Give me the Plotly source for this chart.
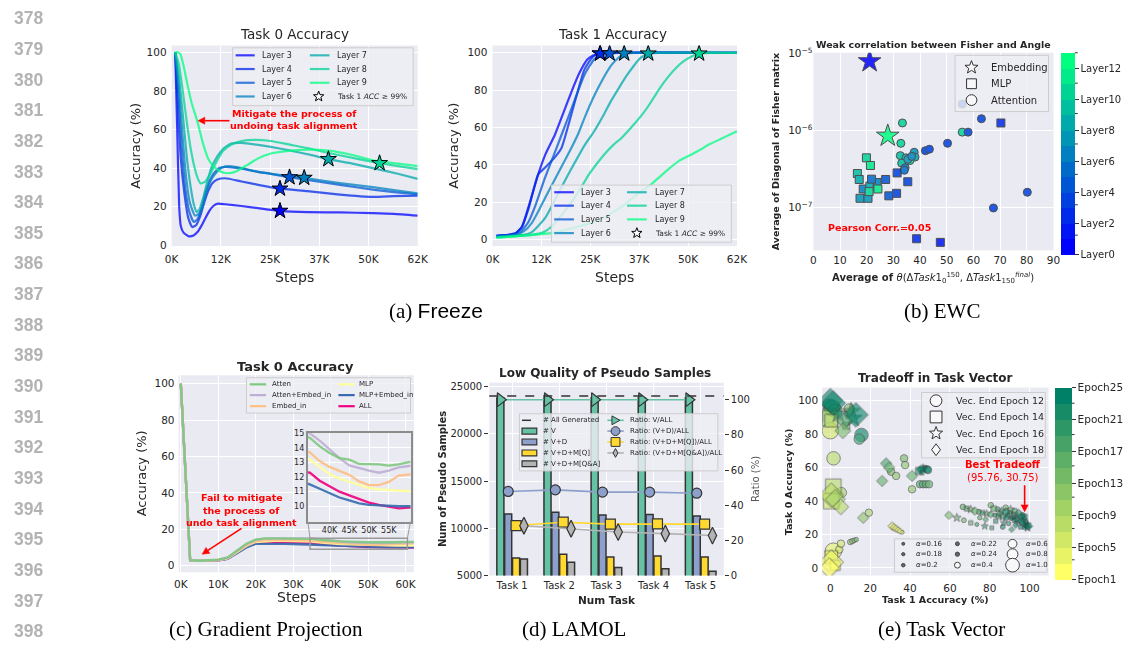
import math
import plotly.graph_objects as go

W, H = 1137, 653
FONT = "DejaVu Sans"
TXT = "#262626"
BG = "#EAEAF2"
RED = "#FF0000"

# ======================= DATA =======================
# ---- (a) Freeze : Task 0 accuracy (steps in thousands) ----
freeze_layers = [3, 4, 5, 6, 7, 8, 9]
t0_steps_l3 = [0.9, 1.4, 1.9, 2.3, 3.0, 4.3, 5.5, 6.5, 7.5, 8.5, 9.5, 10.5, 11.5, 13.5, 17.6, 21.8, 27.3, 34.2, 42.4, 50.7, 56.0, 62.0]
t0_acc_l3 = [100, 60, 20, 10, 6.5, 4.6, 5.0, 6.8, 10, 14, 17.8, 20.3, 21.5, 21.2, 20.3, 19.2, 17.8, 17.1, 17.0, 16.6, 16.2, 15.3]
t0_steps_l4 = [0.9, 1.6, 2.3, 3.2, 4.2, 5.2, 6.2, 7.2, 8.2, 9.2, 10.2, 11.5, 13.5, 17.6, 21.8, 27.3, 34.2, 42.4, 50.7, 56.0, 62.0]
t0_acc_l4 = [100, 70, 45, 27, 14, 9.4, 10.5, 15, 22, 28, 32, 34, 34.7, 33.0, 31.3, 29.3, 28.0, 26.2, 25.0, 25.4, 25.7]
t0_steps_l5 = [0.9, 1.7, 2.5, 3.4, 4.5, 5.6, 6.5, 7.5, 8.5, 9.5, 10.5, 12.0, 13.5, 17.6, 21.8, 25.0, 29.7, 34.2, 42.4, 50.7, 56.0, 62.0]
t0_acc_l5 = [100, 78, 52, 30, 17, 12.0, 13.5, 19, 27, 33, 37, 40, 40.6, 39.7, 38.0, 37.0, 35.2, 33.8, 31.3, 28.8, 27.5, 26.4]
t0_steps_l6 = [0.9, 1.8, 2.7, 3.6, 4.6, 5.9, 7.0, 8.0, 9.0, 10.0, 11.0, 12.5, 14.5, 17.6, 21.8, 27.0, 33.4, 42.4, 50.7, 56.0, 62.0]
t0_acc_l6 = [100, 82, 58, 36, 22, 15.3, 16.5, 22, 29, 34, 37, 40, 41, 40, 38, 36.5, 34.9, 32.2, 30.1, 28.5, 26.9]
t0_steps_l7 = [0.9, 1.8, 2.8, 3.8, 4.8, 5.6, 6.3, 7.0, 8.0, 9.0, 10.0, 11.5, 13.0, 15.0, 17.6, 21.8, 25.0, 30.0, 35.0, 39.5, 45.0, 52.4, 57.0, 62.0]
t0_acc_l7 = [100, 88, 68, 46, 30, 21, 17.2, 18.5, 25, 33, 40, 46, 50, 52.7, 53.0, 52.0, 51.0, 49.0, 46.8, 44.6, 42.5, 39.2, 37.0, 34.4]
t0_steps_l8 = [0.9, 1.8, 2.8, 3.8, 4.8, 5.8, 6.6, 7.3, 8.5, 10.0, 11.5, 13.0, 15.0, 17.6, 21.0, 25.0, 30.0, 35.0, 39.5, 45.0, 52.4, 57.0, 62.0]
t0_acc_l8 = [100, 94, 80, 64, 50, 40, 34.5, 32, 33, 38, 44, 49, 52, 54, 54.6, 54.0, 52.0, 50.0, 47.8, 45.5, 42.5, 41.0, 39.4]
t0_steps_l9 = [0.9, 1.5, 2.2, 3.0, 4.0, 5.0, 6.5, 8.0, 9.4, 11.0, 12.5, 14.0, 16.0, 19.0, 21.8, 25.0, 30.0, 35.0, 39.5, 45.0, 50.7, 56.0, 62.0]
t0_acc_l9 = [100, 100, 99, 93, 83, 74, 64, 52, 44, 40, 38, 37.3, 38, 41.5, 45, 47.5, 49, 49.5, 49, 47, 44, 42.5, 41]

# ---- (a) Freeze : Task 1 accuracy ----
t1_steps_l3 = [1, 4, 6, 7.5, 9.2, 11.6, 13.5, 15.8, 18, 20, 22, 24.1, 25.5, 27.3, 30, 62]
t1_acc_l3 = [2.0, 2.5, 3.5, 7, 18, 35, 46, 56, 68, 79, 89, 96.5, 98.5, 99.6, 100, 100]
t1_steps_l4 = [1, 4, 6, 7.5, 9.2, 11.6, 13.3, 15.8, 17.5, 20, 23.3, 25.5, 27.3, 30, 62]
t1_acc_l4 = [2.0, 2.5, 3.5, 7, 17, 35, 38.5, 44, 49, 67, 91, 98, 99.6, 100, 100]
t1_steps_l5 = [1, 5, 7, 9, 10.8, 13.3, 15.5, 17.5, 19.5, 21.6, 23.5, 25.8, 27.5, 29.7, 32, 62]
t1_acc_l5 = [2.0, 2.5, 4, 9, 17.8, 33, 45, 56, 67, 79, 89, 96.5, 98.5, 99.6, 100, 100]
t1_steps_l6 = [1, 6, 8, 10, 11.6, 13.5, 15.5, 17.5, 19.5, 21.6, 23.5, 25.8, 28, 30, 32, 33.4, 36, 62]
t1_acc_l6 = [1.5, 2.5, 4.5, 9, 15, 23, 31, 39, 47, 56, 66, 77, 86, 93, 97.5, 99.6, 100, 100]
t1_steps_l7 = [1, 8, 10, 11.6, 13.5, 15.8, 17.5, 19.5, 21.6, 23.5, 25.8, 28, 30, 32, 34.1, 36, 37.4, 39.5, 42, 62]
t1_acc_l7 = [1.5, 2.5, 4, 7.3, 12, 21, 28, 36, 44, 51, 58, 66, 74, 81, 88, 93.5, 97, 99.6, 100, 100]
t1_steps_l8 = [1, 10, 13, 15, 17.5, 20, 22.5, 24.5, 26.6, 28.5, 30.8, 32.5, 34.1, 36, 38, 40, 42.4, 44.5, 46.6, 48.5, 50.5, 52.4, 55, 62]
t1_acc_l8 = [1.2, 2.5, 4, 7, 13, 20, 28, 35, 41, 46, 51, 54, 57.5, 62, 67, 73, 81, 87, 92, 95.5, 98, 99.6, 100, 100]
t1_steps_l9 = [1, 10, 15, 17.5, 20, 22.5, 25.8, 28, 30, 32, 34, 36, 38.3, 40.5, 42.4, 44.5, 47.4, 50.7, 53, 55, 58, 60, 62]
t1_acc_l9 = [1.0, 2.5, 3.5, 4.7, 6, 7.5, 9.5, 11.5, 14, 16.5, 19.6, 23, 26.6, 30, 33.6, 37.5, 42.3, 45.8, 48.5, 51, 54, 56, 58]

star_layers = [3, 4, 5, 6, 7, 8]
star_steps = [27.3, 27.3, 29.7, 33.4, 39.5, 52.4]
star_task0_acc = [17.8, 29.3, 35.2, 34.9, 44.6, 42.5]
star_task1_acc = [99.6, 99.6, 99.6, 99.6, 99.6, 99.6]
freeze_xticks = [0, 12.4, 24.8, 37.2, 49.6, 62]
freeze_xticklabels = ["0K", "12K", "25K", "37K", "50K", "62K"]
acc_ticks = [0, 20, 40, 60, 80, 100]

# ---- (b) EWC ----
ewc_emb_angle = [21.1, 27.9]
ewc_emb_fisher = [7.9e-6, 8.5e-7]
ewc_emb_layer = [0, 12]
ewc_mlp_angle = [70.3, 19.9, 21.4, 16.5, 17.2, 18.7, 17.5, 20.5, 21.2, 20.9, 23.9, 24.2, 21.8, 27.1, 31.4, 28.3, 31.2, 35.4, 38.7, 47.6]
ewc_mlp_fisher = [1.25e-6, 4.4e-7, 3.5e-7, 2.75e-7, 2.3e-7, 1.73e-7, 1.31e-7, 1.31e-7, 1.89e-7, 1.6e-7, 2.1e-7, 1.73e-7, 2.32e-7, 2.3e-7, 2.8e-7, 1.41e-7, 1.52e-7, 2.15e-7, 3.9e-8, 3.5e-8]
ewc_mlp_layer = [2, 10, 11, 9, 8, 6, 7, 7, 8, 10, 6, 11, 5, 4, 3, 4, 3, 3, 2, 1]
ewc_att_angle = [33.4, 32.8, 55.8, 63.0, 55.8, 58.0, 50.3, 42.0, 43.5, 32.6, 37.8, 38.1, 34.7, 36.2, 33.1, 34.4, 34.1, 35.4, 36.9, 67.5, 80.2]
ewc_att_fisher = [1.25e-6, 6.8e-7, 2.2e-6, 1.42e-6, 9.5e-7, 9.5e-7, 6.8e-7, 5.45e-7, 5.7e-7, 4.7e-7, 5.2e-7, 4.5e-7, 4.4e-7, 4.05e-7, 3.75e-7, 3.27e-7, 3.03e-7, 4.2e-7, 4.6e-7, 9.8e-8, 1.57e-7]
ewc_att_layer = [10, 10, 4, 3, 10, 3, 3, 3, 3, 9, 7, 8, 8, 10, 9, 5, 5, 7, 6, 3, 3]
ewc_pearson = "Pearson Corr.=0.05"
layer_tickvals = [0, 2, 4, 6, 8, 10, 12]
layer_ticktext = ["Layer0", "Layer2", "Layer4", "Layer6", "Layer8", "Layer10", "Layer12"]
layer_minor_ticks = [1, 3, 5, 7, 9, 11, 13]

# ---- (c) Gradient Projection ----
gp_steps = [0, 2.5, 5, 7.5, 10, 12.5, 15, 17.5, 20, 22.5, 25, 27.5, 30, 32.5, 35, 37.5, 40, 42.5, 45, 47.5, 50, 52.5, 55, 57.5, 60, 62.5]
gp_atten = [100, 3.0, 2.7, 2.8, 3.3, 4.5, 8.5, 12.0, 14.3, 15.0, 15.0, 15.0, 15.0, 14.9, 14.7, 14.1, 13.65, 13.3, 13.2, 12.9, 12.87, 12.87, 12.78, 12.87, 13.03, 13.1]
gp_atten_emb = [100, 3.0, 2.7, 2.8, 3.2, 4.3, 8.2, 11.8, 14.2, 14.9, 15.0, 15.1, 15.1, 15.1, 15.0, 14.5, 13.9, 13.3, 12.8, 12.6, 12.44, 12.3, 12.44, 12.66, 12.78, 12.85]
gp_emb = [100, 3.0, 2.7, 2.8, 3.1, 4.1, 7.8, 11.2, 13.4, 14.0, 14.1, 14.1, 14.0, 13.9, 13.7, 13.1, 12.7, 12.4, 12.15, 11.7, 11.45, 11.45, 11.67, 12.1, 12.2, 12.25]
gp_mlp = [100, 3.0, 2.7, 2.8, 3.0, 4.0, 7.5, 10.8, 13.0, 13.5, 13.6, 13.6, 13.5, 13.4, 13.2, 12.7, 12.2, 11.9, 11.7, 11.45, 11.25, 11.15, 11.1, 11.05, 11.0, 11.0]
gp_mlp_emb = [100, 3.0, 2.6, 2.7, 2.9, 3.7, 6.8, 10.0, 12.0, 12.1, 12.1, 12.0, 11.9, 11.7, 11.5, 11.2, 10.9, 10.6, 10.4, 10.2, 10.1, 10.05, 10.0, 10.0, 10.0, 10.0]
gp_all = [100, 3.0, 2.6, 2.7, 2.9, 3.8, 7.0, 10.3, 12.5, 12.7, 12.7, 12.6, 12.5, 12.4, 12.3, 11.75, 11.35, 11.0, 10.75, 10.5, 10.25, 10.1, 9.98, 9.86, 9.9, 9.9]
gp_names = ["Atten", "Atten+Embed_in", "Embed_in", "MLP", "MLP+Embed_in", "ALL"]
gp_xticks = [0, 10, 20, 30, 40, 50, 60]
gp_xticklabels = ["0K", "10K", "20K", "30K", "40K", "50K", "60K"]
gp_inset_xticks = [40, 45, 50, 55]
gp_inset_xticklabels = ["40K", "45K", "50K", "55K"]
gp_inset_yticks = [10, 11, 12, 13, 14, 15]

# ---- (d) LAMOL ----
lamol_tasks = ["Task 1", "Task 2", "Task 3", "Task 4", "Task 5"]
num_v = [23800, 23800, 23800, 23800, 23800]
num_vd = [11500, 11700, 11400, 11450, 11300]
num_vdq = [6850, 7250, 6950, 7050, 6950]
num_vdqa = [6750, 6400, 5850, 5700, 5450]
all_generated = 24000
ratio_v = [100, 100, 100, 100, 100]
ratio_vd = [47.8, 48.7, 47.4, 47.4, 46.8]
ratio_vdq = [28.4, 30.3, 29.2, 29.4, 29.2]
ratio_vdqa = [28.3, 26.6, 24.7, 23.8, 22.7]
lamol_left_ticks = [5000, 10000, 15000, 20000, 25000]
lamol_right_ticks = [0, 20, 40, 60, 80, 100]

# ---- (e) Task Vector ----
tv_task1 = [0.0, 1.5, -0.5, 1.0, 2.5, -0.5, 0.0, 0.5, 0.0, 9.5, 10.5, 12.8, 11.5, 7.0, 8.0, 6.3, 15.6, 14.5, 4.0,
            1.6, 1.5, 0.5, 0.5, 2.5, 5.3, 5.5,
            1.5, 0.5, -0.5, 0.5, 4.5, 5.3, 2.5,
            16.5, 19.3, 10.0, 11.0, 12.0, 13.0, 31.0, 32.0, 33.0, 34.0, 35.0, 36.0,
            26.0, 28.0, 29.5, 30.5, 33.0, 37.0, 37.5, 41.0, 41.0, 44.5, 45.5, 46.5, 47.5, 48.5, 46.0, 49.0, 45.0, 46.5, 48.0, 49.5,
            59.5, 63.5, 67.0, 70.5, 73.5, 77.5, 81.0, 86.5, 91.0, 66.5, 68.5, 70.5, 72.5, 74.5, 76.5, 78.5, 80.5, 80.5, 82.5, 84.5,
            86.5, 88.5, 90.5, 92.5, 94.5, 96.5, 98.5, 82.0, 84.0, 86.0, 88.0, 90.0, 92.0, 94.0, 95.8, 97.0, 98.0, 99.0, 75.0, 78.0,
            83.0, 87.0, 89.5, 93.0, 95.5, 97.5, 99.0, 85.0, 89.0, 91.5, 93.5, 96.0, 98.0, 99.5, 88.0, 90.5, 92.5, 94.5, 96.5, 97.5]
tv_task0 = [100.0, 98.5, 97.0, 95.5, 94.0, 91.5, 89.5, 88.0, 82.0, 95.0, 93.5, 91.5, 89.5, 88.0, 85.0, 82.0, 79.5, 77.0, 92.0,
            65.5, 48.5, 43.5, 40.0, 41.0, 36.5, 45.0,
            10.0, 3.5, 0.0, 6.5, 11.0, 14.5, 1.5,
            30.0, 33.0, 15.5, 16.0, 16.5, 17.0, 25.0, 24.2, 23.5, 22.8, 22.0, 21.3,
            52.0, 62.5, 60.0, 57.5, 55.0, 65.5, 61.5, 55.0, 47.0, 58.0, 59.0, 59.5, 60.0, 59.0, 57.0, 58.5, 50.0, 50.0, 50.0, 50.0,
            31.5, 30.0, 28.5, 27.0, 26.0, 25.0, 24.0, 24.5, 23.0, 36.5, 35.5, 35.0, 34.0, 33.5, 33.0, 32.5, 37.5, 32.0, 31.5, 31.0,
            30.5, 30.0, 29.5, 28.5, 27.5, 26.5, 25.0, 35.5, 35.0, 34.0, 33.5, 33.0, 32.0, 31.0, 30.8, 29.0, 27.5, 26.0, 30.0, 29.0,
            28.0, 27.0, 26.5, 25.5, 24.5, 24.0, 24.0, 32.5, 31.5, 30.0, 29.0, 28.0, 26.0, 25.0, 36.0, 35.0, 34.0, 33.0, 31.5, 30.5]
tv_alpha = [1.0, 1.0, 0.8, 1.0, 0.8, 0.8, 1.0, 0.8, 1.0, 0.6, 0.6, 1.0, 0.6, 0.6, 0.4, 0.6, 0.8, 0.6, 0.6,
            0.8, 1.0, 1.0, 1.0, 0.8, 0.6, 0.6,
            1.0, 1.0, 0.8, 0.8, 0.4, 0.4, 0.6,
            0.4, 0.4, 0.24, 0.22, 0.2, 0.18, 0.24, 0.22, 0.2, 0.18, 0.16, 0.16,
            0.4, 0.4, 0.4, 0.4, 0.4, 0.4, 0.4, 0.4, 0.4, 0.4, 0.24, 0.22, 0.2, 0.4, 0.18, 0.4, 0.4, 0.4, 0.4, 0.4,
            0.24, 0.22, 0.2, 0.18, 0.16, 0.18, 0.16, 0.2, 0.16, 0.24, 0.22, 0.2, 0.24, 0.22, 0.2, 0.18, 0.24, 0.2, 0.18, 0.22,
            0.2, 0.18, 0.16, 0.2, 0.18, 0.16, 0.2, 0.24, 0.22, 0.2, 0.24, 0.22, 0.2, 0.18, 0.24, 0.22, 0.2, 0.18, 0.18, 0.16,
            0.18, 0.16, 0.18, 0.16, 0.18, 0.16, 0.2, 0.16, 0.18, 0.2, 0.22, 0.2, 0.22, 0.24, 0.24, 0.2, 0.22, 0.2, 0.22, 0.24]
tv_epoch = [25, 23, 21, 19, 17, 11, 9, 7, 5, 13, 15, 25, 21, 17, 15, 13, 25, 19, 21,
            7, 7, 7, 5, 9, 7, 9,
            3, 3, 1, 3, 5, 5, 1,
            11, 9, 11, 11, 13, 13, 3, 3, 3, 3, 3, 3,
            15, 17, 15, 13, 11, 13, 11, 15, 11, 21, 23, 25, 25, 25, 21, 23, 17, 17, 17, 15,
            13, 15, 13, 15, 17, 19, 17, 21, 19, 15, 17, 13, 15, 17, 19, 15, 13, 17, 19, 21,
            17, 23, 21, 25, 23, 25, 25, 15, 17, 19, 21, 19, 23, 21, 25, 23, 25, 25, 15, 17,
            19, 21, 19, 23, 25, 25, 23, 17, 21, 23, 25, 23, 25, 25, 13, 15, 17, 19, 21, 23]
tv_vec_end = [18, 18, 12, 12, 12, 14, 14, 14, 12, 12, 16, 18, 16, 18, 14, 18, 12, 12, 16,
              12, 14, 18, 14, 18, 18, 12,
              12, 18, 18, 14, 12, 12, 14,
              18, 12, 12, 12, 12, 12, 18, 18, 18, 18, 18, 12,
              18, 18, 18, 12, 12, 12, 12, 18, 12, 14, 18, 16, 12, 12, 14, 12, 12, 12, 12, 12,
              18, 16, 12, 14, 12, 16, 14, 12, 18, 12, 14, 16, 18, 12, 14, 16, 12, 18, 12, 14,
              16, 18, 12, 14, 16, 18, 12, 14, 12, 16, 18, 12, 14, 16, 18, 12, 14, 16, 12, 18,
              14, 16, 12, 18, 14, 12, 16, 18, 14, 12, 16, 18, 12, 18, 12, 16, 14, 18, 12, 14]
tv_best = (95.76, 30.75)
vec_end_epochs = [12, 14, 16, 18]
alpha_levels = [0.16, 0.18, 0.2, 0.22, 0.24, 0.4, 0.6, 0.8, 1.0]
epoch_tickvals = [1, 5, 9, 13, 17, 21, 25]
epoch_ticktext = ["Epoch1", "Epoch5", "Epoch9", "Epoch13", "Epoch17", "Epoch21", "Epoch25"]
epoch_minor_ticks = [3, 7, 11, 15, 19, 23]
tv_ticks = [0, 20, 40, 60, 80, 100]

# ======================= HELPERS =======================
def fx(p):
    return p / W


def fy(p):
    return 1 - p / H


def winter(t):
    return (0, int(round(255 * t)), int(round(255 * (1 - 0.5 * t))))


def summer_r(t):
    s = 1 - t
    return (int(round(255 * s)), int(round(255 * (0.5 + 0.5 * s))), 102)


def rgba(c, a=1.0):
    return "rgba(%d,%d,%d,%.3f)" % (c[0], c[1], c[2], a)


def discrete_scale(colors):
    n = len(colors)
    cs = []
    for i, c in enumerate(colors):
        cs.append([i / n, rgba(c)])
        cs.append([(i + 1) / n, rgba(c)])
    return cs


shapes = []
annos = []


def rect_px(x0, y0, x1, y1, fill, line, lw=1.0):
    shapes.append(dict(type="rect", xref="paper", yref="paper", x0=fx(x0), x1=fx(x1), y0=fy(y1), y1=fy(y0),
                       fillcolor=fill, line=dict(color=line, width=lw), layer="above"))


def line_px(x0, y0, x1, y1, color, width, dash="solid"):
    shapes.append(dict(type="line", xref="paper", yref="paper", x0=fx(x0), y0=fy(y0), x1=fx(x1), y1=fy(y1),
                       line=dict(color=color, width=width, dash=dash), layer="above"))


def path_px(pts, fill, line, lw):
    d = "M" + "L".join("%.5f,%.5f" % (fx(x), fy(y)) for x, y in pts) + "Z"
    shapes.append(dict(type="path", xref="paper", yref="paper", path=d, fillcolor=fill,
                       line=dict(color=line, width=lw), layer="above"))


def symbol_px(sym, cx, cy, size, fill, line, lw=1.0):
    r = size / 2.0
    if sym == "circle":
        shapes.append(dict(type="circle", xref="paper", yref="paper", x0=fx(cx - r), x1=fx(cx + r),
                           y0=fy(cy + r), y1=fy(cy - r), fillcolor=fill, line=dict(color=line, width=lw), layer="above"))
    elif sym == "square":
        rect_px(cx - r, cy - r, cx + r, cy + r, fill, line, lw)
    elif sym == "diamond":
        path_px([(cx, cy - r), (cx + r * 0.75, cy), (cx, cy + r), (cx - r * 0.75, cy)], fill, line, lw)
    elif sym == "diamond-tall":
        path_px([(cx, cy - r), (cx + r * 0.55, cy), (cx, cy + r), (cx - r * 0.55, cy)], fill, line, lw)
    elif sym == "triangle-right":
        path_px([(cx - r * 0.8, cy - r), (cx + r, cy), (cx - r * 0.8, cy + r)], fill, line, lw)
    elif sym == "star":
        pts = []
        for k in range(10):
            ang = -math.pi / 2 + k * math.pi / 5
            rr = r if k % 2 == 0 else r * 0.42
            pts.append((cx + rr * math.cos(ang), cy + rr * math.sin(ang)))
        path_px(pts, fill, line, lw)


def text_px(x, y, text, size, color=TXT, xanchor="left", angle=0, family=FONT, yanchor="middle"):
    annos.append(dict(xref="paper", yref="paper", x=fx(x), y=fy(y), text=text, showarrow=False,
                      xanchor=xanchor, yanchor=yanchor, textangle=angle,
                      font=dict(size=size, color=color, family=family)))


def arrow_px(tipx, tipy, tailx, taily, color=RED, width=1.6, head=7.0, half=3.6):
    dx, dy = tipx - tailx, tipy - taily
    n = math.hypot(dx, dy)
    ux, uy = dx / n, dy / n
    bx, by = tipx - ux * head, tipy - uy * head
    line_px(tailx, taily, bx, by, color, width)
    path_px([(tipx, tipy), (bx - uy * half, by + ux * half), (bx + uy * half, by - ux * half)], color, color, 0.5)


LEG_FILL = "rgba(238,238,244,0.82)"
LEG_LINE = "#cccccc"


def dom(a, b, total):
    return [a / total, b / total]


def ydom(top, bottom):
    return [fy(bottom), fy(top)]


def axis(**kw):
    d = dict(showgrid=True, gridcolor="white", gridwidth=1, zeroline=False, showline=False, ticks="",
             tickfont=dict(family=FONT, size=10.5, color=TXT), layer="below traces")
    d.update(kw)
    return d


fig = go.Figure()

# ======================= (a) Freeze =======================
freeze_colors = [winter((L - 3) / 6.0) for L in freeze_layers]
t0_series = [(t0_steps_l3, t0_acc_l3), (t0_steps_l4, t0_acc_l4), (t0_steps_l5, t0_acc_l5), (t0_steps_l6, t0_acc_l6),
             (t0_steps_l7, t0_acc_l7), (t0_steps_l8, t0_acc_l8), (t0_steps_l9, t0_acc_l9)]
t1_series = [(t1_steps_l3, t1_acc_l3), (t1_steps_l4, t1_acc_l4), (t1_steps_l5, t1_acc_l5), (t1_steps_l6, t1_acc_l6),
             (t1_steps_l7, t1_acc_l7), (t1_steps_l8, t1_acc_l8), (t1_steps_l9, t1_acc_l9)]
for (sx, sy), col, L in zip(t0_series, freeze_colors, freeze_layers):
    fig.add_trace(go.Scatter(x=sx, y=sy, mode="lines", name="Layer %d" % L, xaxis="x", yaxis="y",
                             line=dict(color=rgba(col, 0.75), width=2.2, shape="spline", smoothing=0.5)))
for (sx, sy), col, L in zip(t1_series, freeze_colors, freeze_layers):
    fig.add_trace(go.Scatter(x=sx, y=sy, mode="lines", name="Layer %d" % L, xaxis="x2", yaxis="y2",
                             line=dict(color=rgba(col, 0.75), width=2.2, shape="spline", smoothing=0.5)))
star_cols = [rgba(winter((L - 3) / 6.0)) for L in star_layers]
fig.add_trace(go.Scatter(x=star_steps, y=star_task0_acc, mode="markers", xaxis="x", yaxis="y",
                         marker=dict(symbol="star", size=12, color=star_cols, line=dict(color="black", width=1))))
fig.add_trace(go.Scatter(x=star_steps, y=star_task1_acc, mode="markers", xaxis="x2", yaxis="y2",
                         marker=dict(symbol="star", size=12, color=star_cols, line=dict(color="black", width=1))))

# ======================= (b) EWC =======================
winter_bands = [winter(i / 12.0) for i in range(13)]
ewc_scale = discrete_scale(winter_bands)
ewc_common = dict(colorscale=ewc_scale, cmin=-0.001, cmax=12.999, line=dict(color="#333333", width=1))
CB_B = dict(x=1070.7, top=46.7, len=201.6, th=14.3)
fig.add_trace(go.Scatter(x=ewc_mlp_angle, y=ewc_mlp_fisher, mode="markers", xaxis="x3", yaxis="y3", opacity=0.85,
                         marker=dict(symbol="square", size=8, color=ewc_mlp_layer, **ewc_common)))
fig.add_trace(go.Scatter(x=ewc_att_angle, y=ewc_att_fisher, mode="markers", xaxis="x3", yaxis="y3", opacity=0.85,
                         marker=dict(symbol="circle", size=8, color=ewc_att_layer, **ewc_common)))
fig.add_trace(go.Scatter(x=ewc_emb_angle, y=ewc_emb_fisher, mode="markers", xaxis="x3", yaxis="y3", opacity=0.85,
                         marker=dict(symbol="star", size=17, color=ewc_emb_layer, showscale=True,
                                     colorbar=dict(x=fx(CB_B["x"]), xanchor="left", y=fy(CB_B["top"]), yanchor="top",
                                                   lenmode="pixels", len=CB_B["len"], thickness=CB_B["th"],
                                                   thicknessmode="pixels",
                                                   outlinewidth=0, xpad=0, ypad=0, ticks="outside", ticklen=4,
                                                   tickcolor="#333333", tickvals=layer_tickvals, ticktext=layer_ticktext,
                                                   tickfont=dict(family=FONT, size=10, color=TXT)),
                                     **ewc_common)))
for v in layer_minor_ticks:
    yy = CB_B["top"] + CB_B["len"] * (1 - v / 13.0)
    line_px(CB_B["x"] + CB_B["th"], yy, CB_B["x"] + CB_B["th"] + 3, yy, "#333333", 1)

# ======================= (c) Gradient Projection =======================
gp_series = [gp_atten, gp_atten_emb, gp_emb, gp_mlp, gp_mlp_emb, gp_all]
gp_colors = ["#7fc97f", "#beaed4", "#fdc086", "#ffff99", "#386cb0", "#f0027f"]
draw_order = [5, 4, 3, 2, 1, 0]
for k in draw_order:
    fig.add_trace(go.Scatter(x=gp_steps, y=gp_series[k], mode="lines", name=gp_names[k], xaxis="x4", yaxis="y4",
                             opacity=0.9, line=dict(color=gp_colors[k], width=2.3)))
for k in draw_order:
    fig.add_trace(go.Scatter(x=gp_steps, y=gp_series[k], mode="lines", name=gp_names[k], xaxis="x5", yaxis="y5",
                             opacity=0.9, line=dict(color=gp_colors[k], width=2.3)))

# ======================= (d) LAMOL =======================
BAR_GAP = 1 / 3.0
task_idx = list(range(len(lamol_tasks)))
bar_series = [num_v, num_vd, num_vdq, num_vdqa]
bar_colors = ["#66c2a5", "#8da0cb", "#ffd92f", "#b3b3b3"]
bar_names = ["# V", "# V+D", "# V+D+M[Q]", "# V+D+M[Q&A]"]
for ser, col, nm in zip(bar_series, bar_colors, bar_names):
    fig.add_trace(go.Bar(x=task_idx, y=ser, name=nm, xaxis="x6", yaxis="y6", marker=dict(color=col,
                         line=dict(color="#333333", width=1.5))))
slot = (1 - BAR_GAP) / 4.0
offsets = [-(1 - BAR_GAP) / 2.0 + slot * (k + 0.5) for k in range(4)]
ratio_series = [ratio_v, ratio_vd, ratio_vdq, ratio_vdqa]
ratio_colors = ["#66c2a5", "#8da0cb", "#ffd92f", "#b3b3b3"]
ratio_symbols = ["triangle-right", "circle", "square", "diamond-tall"]
ratio_sizes = [12, 10, 10, 12]
for ser, col, sym, off, sz in zip(ratio_series, ratio_colors, ratio_symbols, offsets, ratio_sizes):
    fig.add_trace(go.Scatter(x=[i + off for i in task_idx], y=ser, mode="lines+markers", xaxis="x6", yaxis="y7",
                             line=dict(color=col, width=1.6),
                             marker=dict(symbol=sym, size=sz, color=col, line=dict(color="#333333", width=1.2))))
shapes.append(dict(type="line", xref="x6 domain", yref="y6", x0=0, x1=1, y0=all_generated, y1=all_generated,
                   line=dict(color="#333333", width=1.5, dash="dash"), layer="above"))

# ======================= (e) Task Vector =======================
summer_bands = [summer_r(i / 11.0) for i in range(12)]
tv_scale = discrete_scale(summer_bands)
size_for_alpha = {0.16: 4.0, 0.18: 4.4, 0.2: 4.8, 0.22: 5.2, 0.24: 5.6, 0.4: 7.5, 0.6: 10.5, 0.8: 13.5, 1.0: 16.5}
vec_symbol = {12: "circle", 14: "square", 16: "star", 18: "diamond"}
vec_scale = {12: 1.0, 14: 0.95, 16: 1.25, 18: 1.15}
CB_E = dict(x=1065.0, top=388.3, len=191.7, th=16.7)
for k, ve in enumerate(vec_end_epochs):
    idx = [i for i, v in enumerate(tv_vec_end) if v == ve]
    mk = dict(symbol=vec_symbol[ve], size=[size_for_alpha[tv_alpha[i]] * vec_scale[ve] for i in idx],
              color=[tv_epoch[i] for i in idx], colorscale=tv_scale, cmin=0.999, cmax=25.0,
              line=dict(color="#333333", width=0.9))
    if k == 0:
        mk["showscale"] = True
        mk["colorbar"] = dict(x=fx(CB_E["x"]), xanchor="left", y=fy(CB_E["top"]), yanchor="top", lenmode="pixels",
                              len=CB_E["len"], thickness=CB_E["th"], thicknessmode="pixels", outlinewidth=0, xpad=0,
                              ypad=0, ticks="outside", ticklen=4, tickcolor="#333333", tickvals=epoch_tickvals,
                              ticktext=epoch_ticktext, tickfont=dict(family=FONT, size=10.5, color=TXT))
    fig.add_trace(go.Scatter(x=[tv_task1[i] for i in idx], y=[tv_task0[i] for i in idx], mode="markers",
                             xaxis="x8", yaxis="y8", opacity=0.85, marker=mk))
for v in epoch_minor_ticks:
    yy = CB_E["top"] + CB_E["len"] * (1 - (v - 1) / 24.0)
    line_px(CB_E["x"] + CB_E["th"], yy, CB_E["x"] + CB_E["th"] + 3, yy, "#333333", 1)

# ======================= AXES =======================
A1 = dict(x0=167.3, x1=417.3, top=39.3, bottom=244.0)
A2 = dict(x0=493.3, x1=741.7, top=39.3, bottom=244.0)
B = dict(x0=819.3, x1=1063.3, top=46.7, bottom=248.3)
C = dict(x0=174.3, x1=413.3, top=375.7, bottom=576.7)
CI = dict(x0=305.7, x1=410.0, top=435.0, bottom=525.0)
D = dict(x0=490.0, x1=728.3, top=383.3, bottom=580.0)
E = dict(x0=828.3, x1=1058.3, top=388.3, bottom=580.0)
C_xr = [-0.6, 62.2]
C_yr = [-3.6, 104.6]
CI_xr = [34.5, 60.5]
CI_yr = [8.95, 15.0]

lay = dict(
    xaxis=axis(domain=dom(A1["x0"], A1["x1"], W), range=[0, 62], tickvals=freeze_xticks, ticktext=freeze_xticklabels,
               anchor="y", ticklabelstandoff=5),
    yaxis=axis(domain=ydom(A1["top"], A1["bottom"]), range=[-0.5, 103.5], tickvals=acc_ticks, anchor="x",
               ticklabelstandoff=4),
    xaxis2=axis(domain=dom(A2["x0"], A2["x1"], W), range=[0, 62], tickvals=freeze_xticks, ticktext=freeze_xticklabels,
                anchor="y2", ticklabelstandoff=5),
    yaxis2=axis(domain=ydom(A2["top"], A2["bottom"]), range=[-3.5, 103.9], tickvals=acc_ticks, anchor="x2",
                ticklabelstandoff=4),
    xaxis3=axis(domain=dom(B["x0"], B["x1"], W), range=[0, 90], dtick=10, anchor="y3", ticklabelstandoff=2),
    yaxis3=axis(domain=ydom(B["top"], B["bottom"]), type="log", range=[-7.56, -4.99], anchor="x3",
                tickvals=[1e-7, 1e-6, 1e-5], ticktext=["10<sup>−7</sup>", "10<sup>−6</sup>", "10<sup>−5</sup>"]),
    xaxis4=axis(domain=dom(C["x0"], C["x1"], W), range=C_xr, tickvals=gp_xticks, ticktext=gp_xticklabels, anchor="y4",
                ticklabelstandoff=4),
    yaxis4=axis(domain=ydom(C["top"], C["bottom"]), range=C_yr, tickvals=acc_ticks, anchor="x4", ticklabelstandoff=3),
    xaxis5=axis(domain=dom(CI["x0"], CI["x1"], W), range=CI_xr, tickvals=gp_inset_xticks, ticktext=gp_inset_xticklabels,
                anchor="y5", showline=True, mirror=True, linecolor="#8c8c8c", linewidth=2,
                tickfont=dict(family=FONT, size=8, color=TXT)),
    yaxis5=axis(domain=ydom(CI["top"], CI["bottom"]), range=CI_yr, tickvals=gp_inset_yticks, anchor="x5",
                showline=True, mirror=True, linecolor="#8c8c8c", linewidth=2,
                tickfont=dict(family=FONT, size=8, color=TXT)),
    xaxis6=axis(domain=dom(D["x0"], D["x1"], W), range=[-0.486, 4.49], tickvals=task_idx, ticktext=lamol_tasks,
                anchor="y6", ticklabelstandoff=3, tickfont=dict(family=FONT, size=10, color=TXT)),
    yaxis6=axis(domain=ydom(D["top"], D["bottom"]), range=[5000, 25415], tickvals=lamol_left_ticks, anchor="x6",
                tickformat="d", ticks="outside", ticklen=4, tickcolor="#333333",
                tickfont=dict(family=FONT, size=10, color=TXT)),
    yaxis7=axis(domain=ydom(D["top"], D["bottom"]), range=[0, 109.7], tickvals=lamol_right_ticks, anchor="x6",
                overlaying="y6", side="right", showgrid=False, ticks="outside", ticklen=4, tickcolor="#333333",
                tickfont=dict(family=FONT, size=10, color=TXT)),
    xaxis8=axis(domain=dom(E["x0"], E["x1"], W), range=[-4.1, 109.5], tickvals=tv_ticks, anchor="y8",
                ticklabelstandoff=5),
    yaxis8=axis(domain=ydom(E["top"], E["bottom"]), range=[-4.5, 107.8], tickvals=tv_ticks, anchor="x8",
                ticklabelstandoff=3),
)

# ======================= TITLES / AXIS LABELS =======================
text_px(291.7, 27.3, "Task 0 Accuracy", 13.5, xanchor="center")
text_px(615.0, 27.3, "Task 1 Accuracy", 13.5, xanchor="center")
text_px(941.7, 38.3, "<b>Weak correlation between Fisher and Angle</b>", 9.5, xanchor="center")
text_px(293.3, 366.7, "<b>Task 0 Accuracy</b>", 13, xanchor="center")
text_px(608.0, 373.3, "<b>Low Quality of Pseudo Samples</b>", 12, xanchor="center")
text_px(943.3, 379.0, "<b>Tradeoff in Task Vector</b>", 12, xanchor="center")

text_px(131.0, 141.7, "Accuracy (%)", 13, xanchor="center", angle=-90)
text_px(292.3, 275.0, "Steps", 14, xanchor="center")
text_px(454.0, 141.7, "Accuracy (%)", 13, xanchor="center", angle=-90)
text_px(617.5, 275.0, "Steps", 14, xanchor="center")
text_px(781.0, 147.5, "<b>Average of Diagonal of Fisher matrix</b>", 9.5, xanchor="center", angle=-90)
text_px(941.3, 277.0, "<b>Average of </b><i>θ</i>(Δ<i>Task</i>1<sub>0</sub><sup>150</sup>, Δ<i>Task</i>1<sub>150</sub><sup><i>final</i></sup>)",
        10, xanchor="center")
text_px(137.0, 476.0, "Accuracy (%)", 13, xanchor="center", angle=-90)
text_px(293.8, 601.7, "Steps", 14, xanchor="center")
text_px(442.0, 481.7, "<b>Num of Pseudo Samples</b>", 10, xanchor="center", angle=-90)
text_px(609.2, 605.0, "<b>Num Task</b>", 10.5, xanchor="center")
text_px(760.0, 481.7, "Ratio (%)", 10, color="#555555", xanchor="center", angle=-90)
text_px(793.5, 484.0, "<b>Task 0 Accuracy (%)</b>", 9.5, xanchor="center", angle=-90)
text_px(943.3, 604.3, "<b>Task 1 Accuracy (%)</b>", 9.5, xanchor="center")

# ======================= ANNOTATIONS =======================
text_px(291.7, 108.7, "<b>Mitigate the process of</b>", 9.5, color=RED, xanchor="center")
text_px(291.7, 121.0, "<b>undoing task alignment</b>", 9.5, color=RED, xanchor="center")
arrow_px(194.0, 116.0, 226.0, 116.0)
text_px(832.0, 225.0, "<b>" + ewc_pearson + "</b>", 9.5, color=RED)
text_px(238.3, 500.7, "<b>Fail to mitigate</b>", 9.5, color=RED, xanchor="center")
text_px(238.3, 513.3, "<b>the process of</b>", 9.5, color=RED, xanchor="center")
text_px(238.3, 526.0, "<b>undo task alignment</b>", 9.5, color=RED, xanchor="center")
arrow_px(198.3, 558.3, 238.3, 532.0)
text_px(1012.3, 466.7, "<b>Best Tradeoff</b>", 10, color=RED, xanchor="center")
text_px(1012.0, 480.0, "(%.2f, %.2f)" % tv_best, 10, color=RED, xanchor="center")
arrow_px(1034.0, 515.0, 1034.0, 488.0)


# inset marker rectangle + connectors for (c)
def c_main_px(xv, yv):
    px_ = C["x0"] + (xv - C_xr[0]) / (C_xr[1] - C_xr[0]) * (C["x1"] - C["x0"])
    py_ = C["top"] + (C_yr[1] - yv) / (C_yr[1] - C_yr[0]) * (C["bottom"] - C["top"])
    return px_, py_


shapes.append(dict(type="rect", xref="x4", yref="y4", x0=CI_xr[0], x1=CI_xr[1], y0=CI_yr[0], y1=CI_yr[1],
                   line=dict(color="#9a9a9a", width=1.5), fillcolor="rgba(0,0,0,0)", layer="above"))
tl = c_main_px(CI_xr[0], CI_yr[1])
tr = c_main_px(CI_xr[1], CI_yr[1])
line_px(tl[0], tl[1], CI["x0"], CI["bottom"], "#9a9a9a", 1)
line_px(tr[0], tr[1], CI["x1"], CI["bottom"], "#9a9a9a", 1)

# ======================= LEGENDS (drawn manually) =======================
# (a) Task 0
rect_px(229.3, 41.7, 412.7, 100.7, LEG_FILL, LEG_LINE)
rows = [49.3, 63.3, 77.3, 91.3]
for i in range(4):
    line_px(232.3, rows[i], 251.7, rows[i], rgba(freeze_colors[i], 0.75), 2.2)
    text_px(257.5, rows[i], "Layer %d" % freeze_layers[i], 8)
for i in range(3):
    line_px(307.7, rows[i], 327.7, rows[i], rgba(freeze_colors[4 + i], 0.75), 2.2)
    text_px(333.0, rows[i], "Layer %d" % freeze_layers[4 + i], 8)
symbol_px("star", 316.7, rows[3], 11, "white", "black", 1)
text_px(333.0, rows[3], "Task 1 <i>ACC</i> ≥ 99%", 7.5)
# (a) Task 1
rect_px(553.3, 181.7, 736.0, 240.0, LEG_FILL, LEG_LINE)
rows = [189.0, 202.7, 216.7, 230.7]
for i in range(4):
    line_px(556.0, rows[i], 576.0, rows[i], rgba(freeze_colors[i], 0.75), 2.2)
    text_px(581.0, rows[i], "Layer %d" % freeze_layers[i], 8)
for i in range(3):
    line_px(630.0, rows[i], 650.0, rows[i], rgba(freeze_colors[4 + i], 0.75), 2.2)
    text_px(656.0, rows[i], "Layer %d" % freeze_layers[4 + i], 8)
symbol_px("star", 640.0, rows[3], 11, "white", "black", 1)
text_px(656.0, rows[3], "Task 1 <i>ACC</i> ≥ 99%", 7.5)
# (b)
rect_px(963.3, 49.3, 1058.3, 106.7, LEG_FILL, LEG_LINE)
rows = [61.7, 78.3, 95.0]
symbol_px("star", 980.0, rows[0], 14, "#f8f8fa", "#333333", 1)
symbol_px("square", 980.0, rows[1], 10, "#f8f8fa", "#333333", 1)
symbol_px("circle", 980.0, rows[2], 11, "#f8f8fa", "#333333", 1)
for r, t in zip(rows, ["Embedding", "MLP", "Attention"]):
    text_px(997.5, r, t, 10)
# (c)
rect_px(243.3, 378.3, 410.0, 414.3, LEG_FILL, LEG_LINE)
rows = [385.0, 396.0, 407.3]
for i in range(3):
    line_px(246.7, rows[i], 263.3, rows[i], gp_colors[i], 2.2)
    text_px(267.0, rows[i], gp_names[i], 7)
    line_px(336.7, rows[i], 353.3, rows[i], gp_colors[3 + i], 2.2)
    text_px(356.0, rows[i], gp_names[3 + i], 7)
# (d)
rect_px(520.7, 415.0, 722.3, 473.3, LEG_FILL, LEG_LINE)
rows = [421.7, 432.7, 443.8, 455.0, 466.0]
line_px(523.3, rows[0], 538.3, rows[0], "#333333", 1.5, "dash")
text_px(542.5, rows[0], "# All Generated", 7)
for i in range(4):
    rect_px(523.3, rows[i + 1] - 3, 538.3, rows[i + 1] + 3, bar_colors[i], "#333333", 1.2)
    text_px(542.5, rows[i + 1], bar_names[i], 7)
ratio_names = ["Ratio: V/ALL", "Ratio: (V+D)/ALL", "Ratio: (V+D+M[Q])/ALL", "Ratio: (V+D+M[Q&A])/ALL"]
for i in range(4):
    line_px(610.0, rows[i], 626.7, rows[i], ratio_colors[i], 1.6)
    symbol_px(ratio_symbols[i], 618.3, rows[i], 9, ratio_colors[i], "#333333", 1)
    text_px(631.0, rows[i], ratio_names[i], 7)
# (e) shapes legend
rect_px(929.3, 393.3, 1055.0, 460.0, LEG_FILL, LEG_LINE)
rows = [401.7, 418.3, 435.0, 451.7]
for r, ve in zip(rows, vec_end_epochs):
    symbol_px(vec_symbol[ve], 944.0, r, 12 if ve != 16 else 14, "#f8f8fa", "#333333", 1)
    text_px(962.5, r, "Vec. End Epoch %d" % ve, 9.5)
# (e) alpha legend
rect_px(901.7, 542.7, 1056.7, 576.7, LEG_FILL, LEG_LINE)
rows = [547.7, 558.3, 569.5]
mcols = [910.7, 965.7, 1021.7]
tcols = [921.5, 977.5, 1033.0]
leg_size = {0.16: 3.0, 0.18: 3.3, 0.2: 3.6, 0.22: 4.0, 0.24: 4.3, 0.4: 6.0, 0.6: 9.0, 0.8: 11.0, 1.0: 14.0}
for j, a in enumerate(alpha_levels):
    c, r = j // 3, j % 3
    fill = "#666666" if a < 0.3 else "#f8f8fa"
    symbol_px("circle", mcols[c], rows[r], leg_size[a], fill, "#444444", 1)
    text_px(tcols[c], rows[r], "<i>α</i>=%s" % a, 7)

# ======================= CAPTIONS & LINE NUMBERS =======================
CAP = "Liberation Serif"
text_px(435.5, 310.0, "(a) <span style=\"font-family:Liberation Sans\">Freeze</span>", 21, color="black", xanchor="center", family=CAP)
text_px(950.0, 310.0, "(b) EWC", 21, color="black", xanchor="center", family=CAP)
text_px(263.3, 635.0, "(c) Gradient Projection", 21, color="black", xanchor="center", family=CAP)
text_px(575.8, 635.0, "(d) LAMOL", 21, color="black", xanchor="center", family=CAP)
text_px(950.0, 635.0, "(e) Task Vector", 21, color="black", xanchor="center", family=CAP)
for i in range(21):
    text_px(5.0, 11.5 + 31.27 * i, "<b>%d</b>" % (378 + i), 17.5, color="#b3b3b3", family="Liberation Sans")

fig.update_layout(
    width=W, height=H, margin=dict(l=0, r=0, t=0, b=0), paper_bgcolor="white", plot_bgcolor=BG,
    showlegend=False, barmode="group", bargap=BAR_GAP, bargroupgap=0.1,
    font=dict(family=FONT, color=TXT), shapes=shapes, annotations=annos, **lay)

fig.write_html("out.html")
